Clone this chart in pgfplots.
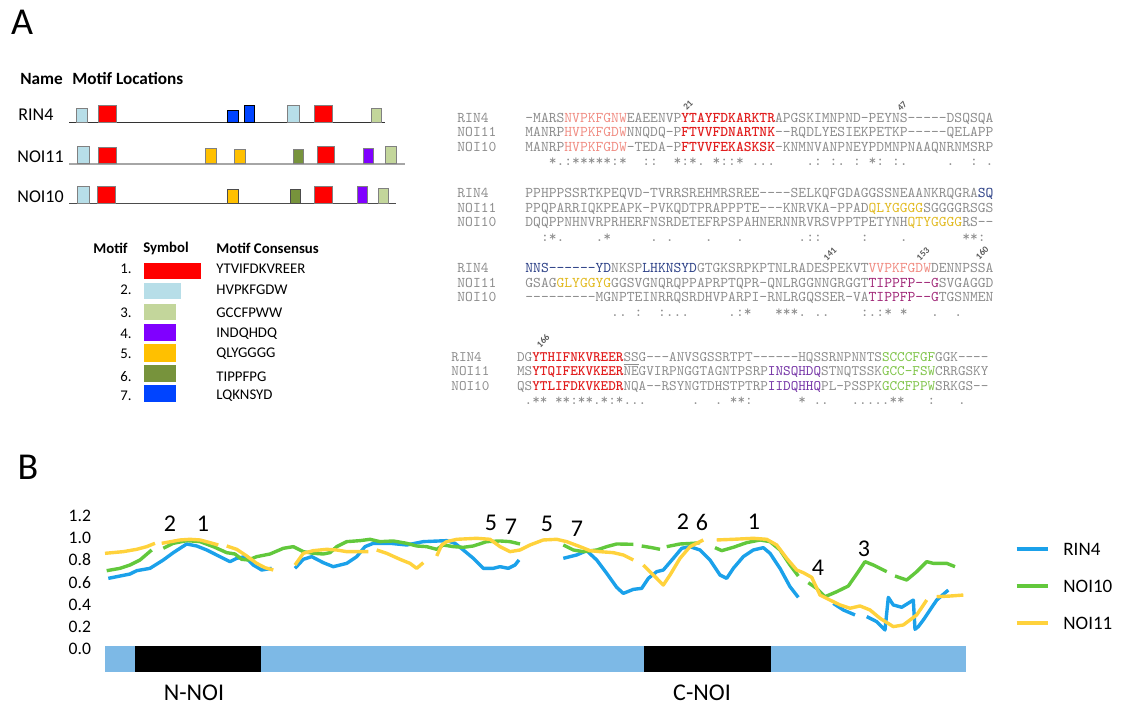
\documentclass[border=0pt]{standalone}
\usepackage{pgfplots}
\pgfplotsset{compat=1.18}
\usepackage{fontspec}
\setmainfont{Carlito}
\setmonofont{lmmono10-regular.otf}[BoldFont=lmmonolt10-bold.otf]
\definecolor{aln}{RGB}{140,140,140}
\definecolor{sal}{RGB}{240,140,130}
\definecolor{mred}{RGB}{225,30,30}
\definecolor{navy}{RGB}{45,65,135}
\definecolor{gold}{RGB}{225,185,30}
\definecolor{mag}{RGB}{160,40,120}
\definecolor{pur}{RGB}{115,50,165}
\definecolor{lgreen}{RGB}{125,195,70}
\definecolor{m1}{RGB}{255,0,0}
\definecolor{m2}{RGB}{183,222,232}
\definecolor{m3}{RGB}{195,214,155}
\definecolor{m4}{RGB}{128,0,255}
\definecolor{m5}{RGB}{255,192,0}
\definecolor{m6}{RGB}{119,147,60}
\definecolor{m7}{RGB}{0,68,255}
\definecolor{cRIN}{RGB}{27,161,234}
\definecolor{cNten}{RGB}{98,200,60}
\definecolor{cNel}{RGB}{255,210,60}
\definecolor{barblue}{RGB}{125,185,230}
\newcommand\sG[1]{{\color{aln}#1}}
\newcommand\sS[1]{{\color{sal}#1}}
\newcommand\sR[1]{{\color{mred}\bfseries #1}}
\newcommand\sN[1]{{\color{navy}#1}}
\newcommand\sY[1]{{\color{gold}#1}}
\newcommand\sM[1]{{\color{mag}#1}}
\newcommand\sP[1]{{\color{pur}#1}}
\newcommand\sL[1]{{\color{lgreen}#1}}
\newcommand\alnf{\ttfamily\fontsize{7.43}{8}\selectfont}
\newcommand\alnfb{\ttfamily\fontsize{7.24}{8}\selectfont}
\newcommand\mbx[6]{\addplot[fill=#1,draw=#2,line width=0.5pt] coordinates {(#3,#6) (#3,#5) (#4,#5) (#4,#6) (#3,#6)};}
\newcommand\lgn[3]{\node[anchor=east,inner sep=0pt,font=\fontsize{7.4}{9}\selectfont] at (axis cs:132,#2) {#1.};
  \node[anchor=west,inner sep=0pt,font=\fontsize{7.4}{9}\selectfont] at (axis cs:216,#2) {#3};}
\newcommand\resn[3]{\node[rotate=45,inner sep=0pt,text=black!65,font=\fontsize{4.6}{5}\selectfont\bfseries] at (axis cs:#1,#2) {#3};}
\newcommand\bnum[3]{\node[inner sep=0pt,font=\fontsize{12}{14}\selectfont] at (axis cs:#1,#2) {#3};}
\tikzset{rin/.style={color=cRIN,line width=1.7pt,line join=round},
nten/.style={color=cNten,line width=1.7pt,line join=round},
nel/.style={color=cNel,line width=1.7pt,line join=round}}
\begin{document}
\begin{tikzpicture}
\begin{axis}[name=canvas, at={(0,0)}, anchor=south west, scale only axis,
  width=561.5pt, height=352.5pt, xmin=0, xmax=1123, ymin=0, ymax=705,
  y dir=reverse, hide axis, clip=false]
% panel letters
\node[font=\fontsize{19}{22}\selectfont] at (axis cs:22,22) {A};
\node[font=\fontsize{19}{22}\selectfont] at (axis cs:28,467) {B};
% motif locations header
\node[anchor=west,inner sep=0pt,font=\fontsize{8.6}{10}\selectfont\bfseries] at (axis cs:20,79) {Name};
\node[anchor=west,inner sep=0pt,font=\fontsize{8.6}{10}\selectfont\bfseries] at (axis cs:72,79) {Motif Locations};
\node[anchor=west,inner sep=0pt,font=\fontsize{9}{10}\selectfont] at (axis cs:18,115) {RIN4};
\node[anchor=west,inner sep=0pt,font=\fontsize{9}{10}\selectfont] at (axis cs:17,157) {NOI11};
\node[anchor=west,inner sep=0pt,font=\fontsize{9}{10}\selectfont] at (axis cs:17,197) {NOI10};
% baselines
\addplot[black!80,line width=0.5pt] coordinates {(69,122.7) (385,122.7)};
\addplot[black!35,line width=1.2pt] coordinates {(69,164) (405,164)};
\addplot[black!70,line width=0.5pt] coordinates {(69,203.3) (396,203.3)};
% RIN4 motifs
\mbx{m2}{gray}{76}{87.3}{109}{122.7}
\mbx{m1}{gray}{98.3}{116}{105.7}{122.7}
\mbx{m7}{black}{227.7}{238.7}{110.7}{122.7}
\mbx{m7}{black}{244.3}{254.3}{106}{122.7}
\mbx{m2}{gray}{287.7}{299}{105.7}{122.7}
\mbx{m1}{gray}{314.3}{332}{105.7}{122.7}
\mbx{m3}{gray}{371}{381.7}{108.3}{122.7}
% NOI11 motifs
\mbx{m2}{gray}{77.3}{89.3}{146.3}{164}
\mbx{m1}{gray}{98.3}{116}{147.7}{164}
\mbx{m5}{gray}{205.7}{216.3}{148.3}{164}
\mbx{m5}{gray}{234.7}{245.7}{150}{164}
\mbx{m6}{gray}{293.3}{303.7}{149.3}{164}
\mbx{m1}{gray}{317}{334.3}{146.3}{164}
\mbx{m4}{gray}{363.3}{373.3}{148.3}{164}
\mbx{m3}{gray}{385.7}{396}{146.3}{164}
% NOI10 motifs
\mbx{m2}{gray}{77.3}{89.3}{186.7}{203.3}
\mbx{m1}{gray}{97.3}{115}{186.7}{203.3}
\mbx{m5}{black!70}{227.7}{238.3}{190}{203.3}
\mbx{m6}{black!70}{290.7}{300.7}{189.3}{203.3}
\mbx{m1}{gray}{314.3}{332}{186.7}{203.3}
\mbx{m4}{gray}{357.3}{367.7}{186.7}{203.3}
\mbx{m3}{gray}{378.3}{388.3}{188.3}{203.3}
% motif legend table
\node[anchor=west,inner sep=0pt,font=\fontsize{7.4}{9}\selectfont\bfseries] at (axis cs:93,248) {Motif};
\node[anchor=west,inner sep=0pt,font=\fontsize{7.4}{9}\selectfont\bfseries] at (axis cs:143,248) {Symbol};
\node[anchor=west,inner sep=0pt,font=\fontsize{7.4}{9}\selectfont\bfseries] at (axis cs:216,248) {Motif Consensus};
\mbx{m1}{m1}{144}{200.7}{263.3}{279}
\mbx{m2}{m2}{144}{180.7}{283.3}{299}
\mbx{m3}{m3}{144}{175.3}{305}{320}
\mbx{m4}{m4}{144}{175.3}{324.3}{341}
\mbx{m5}{m5}{144}{175.3}{344.3}{361}
\mbx{m6}{m6}{144}{175.3}{365.7}{381.7}
\mbx{m7}{m7}{144}{175.3}{385.7}{401.7}
\lgn{1}{268.3}{YTVIFDKVREER}
\lgn{2}{290}{HVPKFGDW}
\lgn{3}{312.7}{GCCFPWW}
\lgn{4}{334}{INDQHDQ}
\lgn{5}{354}{QLYGGGG}
\lgn{6}{376.7}{TIPPFPG}
\lgn{7}{396}{LQKNSYD}
% alignment block 1
\node[anchor=base west,inner sep=0pt,font=\alnf] at (axis cs:457,122.2) {\sG{RIN4}};
\node[anchor=base west,inner sep=0pt,font=\alnf] at (axis cs:457,136.7) {\sG{NOI11}};
\node[anchor=base west,inner sep=0pt,font=\alnf] at (axis cs:457,151.2) {\sG{NOI10}};
\node[anchor=base west,inner sep=0pt,font=\alnf] at (axis cs:525,122.2) {\sG{-MARS}\sS{NVPKFGNW}\sG{EAEENVP}\sR{YTAYFDKARKTR}\sG{APGSKIMNPND-PEYNS-----DSQSQA}};
\node[anchor=base west,inner sep=0pt,font=\alnf] at (axis cs:525,136.7) {\sG{MANRP}\sS{HVPKFGDW}\sG{NNQDQ-P}\sR{FTVVFDNARTNK}\sG{--RQDLYESIEKPETKP-----QELAPP}};
\node[anchor=base west,inner sep=0pt,font=\alnf] at (axis cs:525,151.2) {\sG{MANRP}\sS{HVPKFGDW}\sG{-TEDA-P}\sR{FTVVFEKASKSK}\sG{-KNMNVANPNEYPDMNPNAAQNRNMSRP}};
\node[anchor=base west,inner sep=0pt,font=\alnf] at (axis cs:525,165.7) {\sG{~~~*.:*****:*~~::~~*:*.~*::*~...~~~~.:~:.~:~*:~:.~~~~~.~~:~.}};
% block 2
\node[anchor=base west,inner sep=0pt,font=\alnf] at (axis cs:457,197.8) {\sG{RIN4}};
\node[anchor=base west,inner sep=0pt,font=\alnf] at (axis cs:457,212.3) {\sG{NOI11}};
\node[anchor=base west,inner sep=0pt,font=\alnf] at (axis cs:457,226.8) {\sG{NOI10}};
\node[anchor=base west,inner sep=0pt,font=\alnf] at (axis cs:525,197.8) {\sG{PPHPPSSRTKPEQVD-TVRRSREHMRSREE----SELKQFGDAGGSSNEAANKRQGRA}\sN{SQ}};
\node[anchor=base west,inner sep=0pt,font=\alnf] at (axis cs:525,212.3) {\sG{PPQPARRIQKPEAPK-PVKQDTPRAPPPTE---KNRVKA-PPAD}\sY{QLYGGGG}\sG{SGGGGRSGS}};
\node[anchor=base west,inner sep=0pt,font=\alnf] at (axis cs:525,226.8) {\sG{DQQPPNHNVRPRHERFNSRDETEFRPSPAHNERNNRVRSVPPTPETYNH}\sY{QTYGGGG}\sG{RS--}};
\node[anchor=base west,inner sep=0pt,font=\alnf] at (axis cs:525,241.3) {\sG{~~:*.~~~~.*~~~~~.~.~~~~.~~~.~~~~~~~.::~~~~~:~~~~.~~~~~~~**:~}};
% block 3
\node[anchor=base west,inner sep=0pt,font=\alnf] at (axis cs:457,272.8) {\sG{RIN4}};
\node[anchor=base west,inner sep=0pt,font=\alnf] at (axis cs:457,287.3) {\sG{NOI11}};
\node[anchor=base west,inner sep=0pt,font=\alnf] at (axis cs:457,301.8) {\sG{NOI10}};
\node[anchor=base west,inner sep=0pt,font=\alnf] at (axis cs:525,272.8) {\sN{NNS------YD}\sG{NKSP}\sN{LHKNSYD}\sG{GTGKSRPKPTNLRADESPEKVT}\sS{VVPKFGDW}\sG{DENNPSSA}};
\node[anchor=base west,inner sep=0pt,font=\alnf] at (axis cs:525,287.3) {\sG{GSAG}\sY{GLYGGYG}\sG{GGSVGNQRQPPAPRPTQPR-QNLRGGNNGRGGT}\sM{TIPPFP--G}\sG{SVGAGGD}};
\node[anchor=base west,inner sep=0pt,font=\alnf] at (axis cs:525,301.8) {\sG{---------MGNPTEINRRQSRDHVPARPI-RNLRGQSSER-VA}\sM{TIPPFP--G}\sG{TGSNMEN}};
\node[anchor=base west,inner sep=0pt,font=\alnf] at (axis cs:525,316.3) {\sG{~~~~~~~~~~~..~:~~:...~~~~~.:*~~~***.~..~~~~:.:*~*~~~.~~.~~~~}};
% block 4
\node[anchor=base west,inner sep=0pt,font=\alnfb] at (axis cs:451,361.2) {\sG{RIN4}};
\node[anchor=base west,inner sep=0pt,font=\alnfb] at (axis cs:451,375.7) {\sG{NOI11}};
\node[anchor=base west,inner sep=0pt,font=\alnfb] at (axis cs:451,390.2) {\sG{NOI10}};
\node[anchor=base west,inner sep=0pt,font=\alnfb] at (axis cs:516.7,361.2) {\sG{DG}\sR{YTHIFNKVREER}\sG{\underline{SS}G---ANVSGSSRTPT------HQSSRNPNNTS}\sL{SCCCFGF}\sG{GGK----}};
\node[anchor=base west,inner sep=0pt,font=\alnfb] at (axis cs:516.7,375.7) {\sG{MS}\sR{YTQIFEKVKEER}\sG{NEGVIRPNGGTAGNTPSRP}\sP{INSQHDQ}\sG{STNQTSSK}\sL{GCC-FSW}\sG{CRRGSKY}};
\node[anchor=base west,inner sep=0pt,font=\alnfb] at (axis cs:516.7,390.2) {\sG{QS}\sR{YTLIFDKVKEDR}\sG{NQA--RSYNGTDHSTPTRP}\sP{IIDQHHQ}\sG{PL-PSSPK}\sL{GCCFPPW}\sG{SRKGS--}};
\node[anchor=base west,inner sep=0pt,font=\alnfb] at (axis cs:516.7,404.7) {\sG{~.**~**:**.*:*...~~~~~~.~~.~**:~~~~~~*~..~~~.....**~~~:~~~.~~~}};
% residue numbers
\resn{688}{105}{21}
\resn{902}{106}{47}
\resn{830}{254}{141}
\resn{923}{254}{153}
\resn{982}{253}{160}
\resn{543}{341}{166}
% panel B motif numbers
\bnum{170}{524}{2}
\bnum{203}{524}{1}
\bnum{491}{523}{5}
\bnum{511}{527}{7}
\bnum{547}{524}{5}
\bnum{577}{529}{7}
\bnum{683}{522}{2}
\bnum{702}{522}{6}
\bnum{754}{522}{1}
\bnum{818}{568}{4}
\bnum{864}{549}{3}
\bnum{194}{693}{N-NOI}
\bnum{702}{693}{C-NOI}
\end{axis}
\begin{axis}[at={(52.5pt,14.09pt)}, anchor=south west, scale only axis,
  width=430.5pt, height=83.44pt, xmin=0, xmax=861, ymin=-0.25, ymax=1.25,
  axis line style={draw=none}, xtick=\empty, ytick={0,0.2,0.4,0.6,0.8,1.0,1.2},
  major tick length=0pt, clip=false,
  /pgf/number format/assume math mode=true,
  yticklabel style={font=\fontsize{8.8}{10}\selectfont, /pgf/number format/fixed,
    /pgf/number format/fixed zerofill, /pgf/number format/precision=1, xshift=-3.5pt},
  legend image code/.code={\draw[#1] (0pt,0pt) -- (15.5pt,0pt);},
  legend style={at={(axis description cs:1.0569,0.544)}, anchor=west, draw=none, fill=none,
    inner sep=0pt, outer sep=0pt, row sep=8pt, column sep=5pt,
    font=\fontsize{9.5}{11}\selectfont,
    nodes={inner sep=2pt, text height=6.5pt, text depth=0pt}},
  legend cell align=left]
\addplot[fill=barblue, draw=none, forget plot] coordinates {(0,-0.207) (861,-0.207) (861,0.027) (0,0.027)};
\addplot[fill=black, draw=none, forget plot] coordinates {(30,-0.207) (156,-0.207) (156,0.027) (30,0.027)};
\addplot[fill=black, draw=none, forget plot] coordinates {(539,-0.207) (666,-0.207) (666,0.027) (539,0.027)};
% RIN4
\addplot[rin,forget plot] coordinates {(3.3,0.635) (15,0.656) (25,0.674) (31.7,0.704) (45,0.725) (58.3,0.800) (68.3,0.866) (81.7,0.944) (91.7,0.926) (101.7,0.890) (115,0.830) (125,0.785) (131.7,0.815) (140,0.830) (148.3,0.755) (156.7,0.710) (166.7,0.725)};
\addplot[rin,forget plot] coordinates {(190,0.725) (198.3,0.806) (206.7,0.830) (218.3,0.776) (228.3,0.740) (241.7,0.770) (251.7,0.830) (260,0.920) (268.3,0.950) (285,0.950) (301.7,0.935) (318.3,0.965) (341.7,0.974) (350,0.950) (358.3,0.890) (368.3,0.815) (378.3,0.725) (388.3,0.725) (395,0.740) (403.3,0.725) (410,0.755) (414,0.800)};
\addplot[rin,forget plot] coordinates {(458.3,0.815) (471.7,0.845) (481.7,0.884) (491.7,0.800) (501.7,0.680) (511.7,0.554) (518.3,0.500) (528.3,0.536) (536.7,0.545) (543.3,0.635) (551.7,0.695) (558.3,0.710) (568.3,0.815) (576.7,0.905) (585,0.920) (595,0.890) (605,0.800) (615,0.665) (621.7,0.635) (628.3,0.725) (638.3,0.830) (648.3,0.890) (658.3,0.911) (665,0.860) (675,0.725) (685,0.560) (693.3,0.464)};
\addplot[rin,forget plot] coordinates {(728.3,0.410) (738.3,0.351) (750,0.306)};
\addplot[rin,forget plot] coordinates {(761.7,0.291) (771.7,0.246) (780,0.171) (783.3,0.464) (788.3,0.396) (796.7,0.375) (808.3,0.440) (810,0.177) (813.3,0.201) (818.3,0.261) (825,0.351) (831.7,0.440) (843.3,0.530)};
% NOI10
\addplot[nten,forget plot] coordinates {(1.7,0.704) (15,0.725) (25,0.755) (35,0.800) (46.7,0.890)};
\addplot[nten,forget plot] coordinates {(58.3,0.905) (68.3,0.950) (81.7,0.974) (95,0.965) (108.3,0.920) (121.7,0.866) (130,0.854) (136.7,0.806) (143.3,0.800) (151.7,0.830) (165,0.854) (178.3,0.905) (188.3,0.920) (198.3,0.875) (208.3,0.860) (218.3,0.854) (225,0.866) (231.7,0.920) (241.7,0.965) (255,0.974) (265,0.986) (275,0.965) (288.3,0.971) (301.7,0.950) (311.7,0.926) (321.7,0.920) (331.7,0.896) (338.3,0.935) (348.3,0.920) (358.3,0.914) (368.3,0.926) (381.7,0.965) (395,0.971) (405,0.965) (415,0.944)};
\addplot[nten,forget plot] coordinates {(458.3,0.935) (468.3,0.890) (478.3,0.875) (491.7,0.890) (501.7,0.920) (511.7,0.944) (528.3,0.941)};
\addplot[nten,forget plot] coordinates {(536.7,0.926) (546.7,0.911) (555,0.896)};
\addplot[nten,forget plot] coordinates {(561.7,0.920) (575,0.944) (588.3,0.950) (595,0.956)};
\addplot[nten,forget plot] coordinates {(610,0.911) (616.7,0.884) (628.3,0.914) (641.7,0.956) (655,0.980) (665,0.965) (675,0.890) (685,0.755) (693.3,0.656)};
\addplot[nten,forget plot] coordinates {(703.3,0.596) (711.7,0.545) (720,0.470) (731.7,0.515) (743.3,0.566) (753.3,0.695) (760,0.785) (768.3,0.755) (781.7,0.695)};
\addplot[nten,forget plot] coordinates {(790,0.656) (801.7,0.620) (811.7,0.695) (821.7,0.785) (828.3,0.770) (841.7,0.770) (850,0.740)};
% NOI11
\addplot[nel,forget plot] coordinates {(0,0.860) (18.3,0.875) (31.7,0.896) (41.7,0.920) (50,0.950)};
\addplot[nel,forget plot] coordinates {(56.7,0.950) (75,0.980) (85,0.986) (95,0.980) (105,0.956) (113.3,0.935)};
\addplot[nel,forget plot] coordinates {(121.7,0.926) (131.7,0.896) (141.7,0.836) (151.7,0.770) (160,0.731) (168.3,0.710)};
\addplot[nel,forget plot] coordinates {(190,0.755) (198.3,0.860) (208.3,0.884) (221.7,0.896) (231.7,0.890) (241.7,0.875) (251.7,0.875) (263.3,0.875)};
\addplot[nel,forget plot] coordinates {(271.7,0.890) (281.7,0.860) (295,0.806) (305,0.770) (311.7,0.725) (318.3,0.776)};
\addplot[nel,forget plot] coordinates {(331.7,0.836) (336.7,0.935) (341.7,0.965) (351.7,0.986) (371.7,0.995) (385,0.986) (395,0.920) (405,0.875) (415,0.890) (425,0.935) (438.3,0.980) (451.7,0.986) (461.7,0.965) (475,0.920) (485,0.884) (495,0.875) (508.3,0.866) (518.3,0.845) (528.3,0.800)};
\addplot[nel,forget plot] coordinates {(538.3,0.755) (545,0.695) (551.7,0.635) (558.3,0.575) (565,0.665) (575,0.815) (585,0.920) (598.3,0.980)};
\addplot[nel,forget plot] coordinates {(611.7,0.980) (628.3,0.986) (648.3,0.995) (661.7,0.986) (671.7,0.935) (681.7,0.815) (691.7,0.710) (698.3,0.686) (706.7,0.644) (715,0.485) (725,0.440) (735,0.396) (745,0.366) (755,0.387) (765,0.351) (775,0.276) (788.3,0.201) (798.3,0.216) (811.7,0.306) (821.7,0.440)};
\addplot[nel,forget plot] coordinates {(831.7,0.470) (845,0.476) (858.3,0.485)};
\addlegendimage{rin}\addlegendentry{RIN4}
\addlegendimage{nten}\addlegendentry{NOI10}
\addlegendimage{nel}\addlegendentry{NOI11}
\end{axis}
\pgfresetboundingbox
\path[use as bounding box] (0,0) rectangle (561.5pt,352.5pt);
\end{tikzpicture}
\end{document}
